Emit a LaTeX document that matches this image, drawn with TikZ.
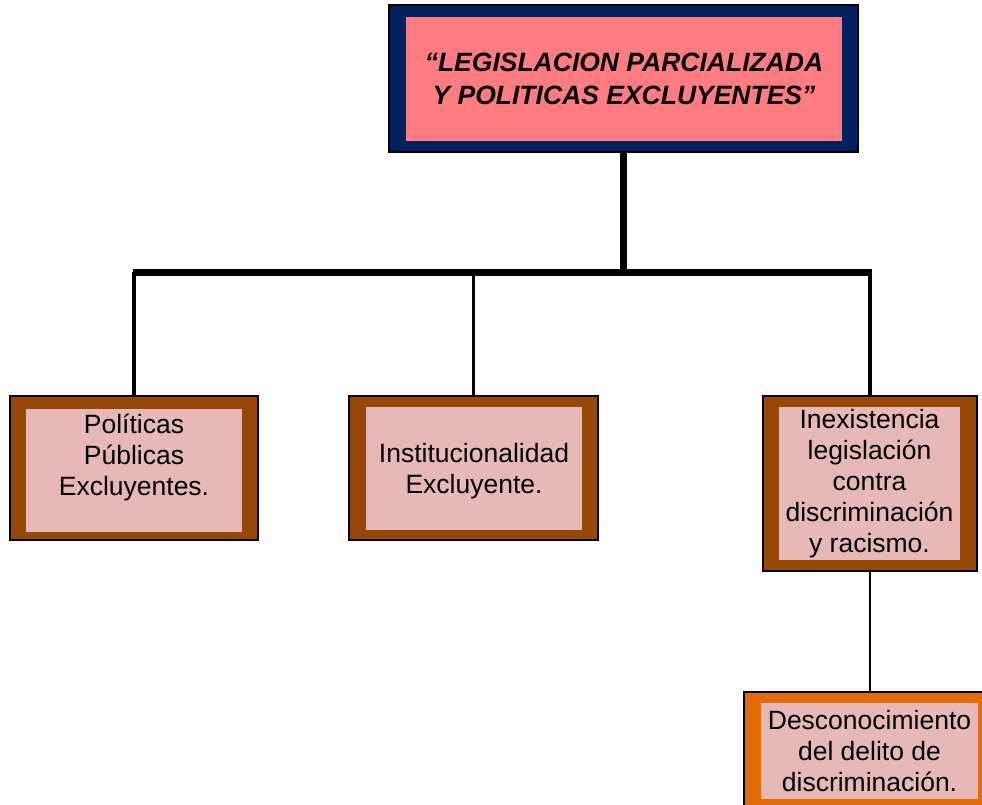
\documentclass[tikz,border=0pt]{standalone}
\usepackage{fontspec}
\setmainfont{Liberation Sans}
\definecolor{navy}{RGB}{0,32,96}
\definecolor{salmon}{RGB}{255,124,128}
\definecolor{brownb}{RGB}{151,72,6}
\definecolor{orangeb}{RGB}{227,108,10}
\definecolor{rosein}{RGB}{230,184,183}
\begin{document}
\begin{tikzpicture}[x=1pt,y=-1pt,
  frame/.style={draw=black, line width=1.2pt, inner sep=0pt},
  inbox/.style={inner sep=0pt, align=center, fill=rosein, font=\fontsize{26.5}{31}\selectfont},
  bar/.style={line width=7pt},
  drop/.style={line width=3.5pt},
  thindrop/.style={line width=2.5pt}]
\useasboundingbox (0,0) rectangle (982,805);
% top box
\node[frame, fill=navy, minimum width=469pt, minimum height=147pt] (top) at (623.5,78.5) {};
\node[inbox, fill=salmon, minimum width=436pt, minimum height=124pt,
  font=\fontsize{26.5}{32.5}\selectfont\bfseries\itshape] (topin) at (624,79)
  {“LEGISLACION PARCIALIZADA\\Y POLITICAS EXCLUYENTES”};
% second level
\node[frame, fill=brownb, minimum width=248pt, minimum height=144pt] (l) at (134,468) {};
\node[inbox, minimum width=216pt, minimum height=123pt] (lin) at (134,470)
  {Políticas\\Públicas\\Excluyentes.\\\mbox{}};
\node[frame, fill=brownb, minimum width=249pt, minimum height=144pt] (m) at (473.5,468) {};
\node[inbox, minimum width=216pt, minimum height=123pt, text depth=0pt] (min) at (474,468.5)
  {Institucionalidad\\Excluyente.};
\node[frame, fill=brownb, minimum width=214pt, minimum height=175pt] (r) at (870,483.5) {};
\node[inbox, minimum width=181pt, minimum height=153pt] (rin) at (869.5,483.5)
  {Inexistencia\\legislación\\contra\\discriminación\\y racismo.};
% third level
\node[frame, fill=orangeb, minimum width=250pt, minimum height=118pt] (b) at (869,751) {};
\node[inbox, minimum width=217pt, minimum height=96pt] (bin) at (869.5,751)
  {Desconocimiento\\del delito de\\discriminación.};
% connectors
\coordinate (bl) at (132.5,272);
\coordinate (br) at (871.5,272);
\coordinate (j) at (623.5,272);
\draw[bar] (bl) -- (br);
\draw[bar] (top.south) -- ([yshift=-3.5pt]j);
\draw[drop] (l.north) -- (l.north |- bl);
\draw[drop] (m.north) -- (m.north |- bl);
\draw[drop] (r.north) -- (r.north |- bl);
\draw[thindrop] (r.south) -- (r.south |- b.north);
\end{tikzpicture}
\end{document}
